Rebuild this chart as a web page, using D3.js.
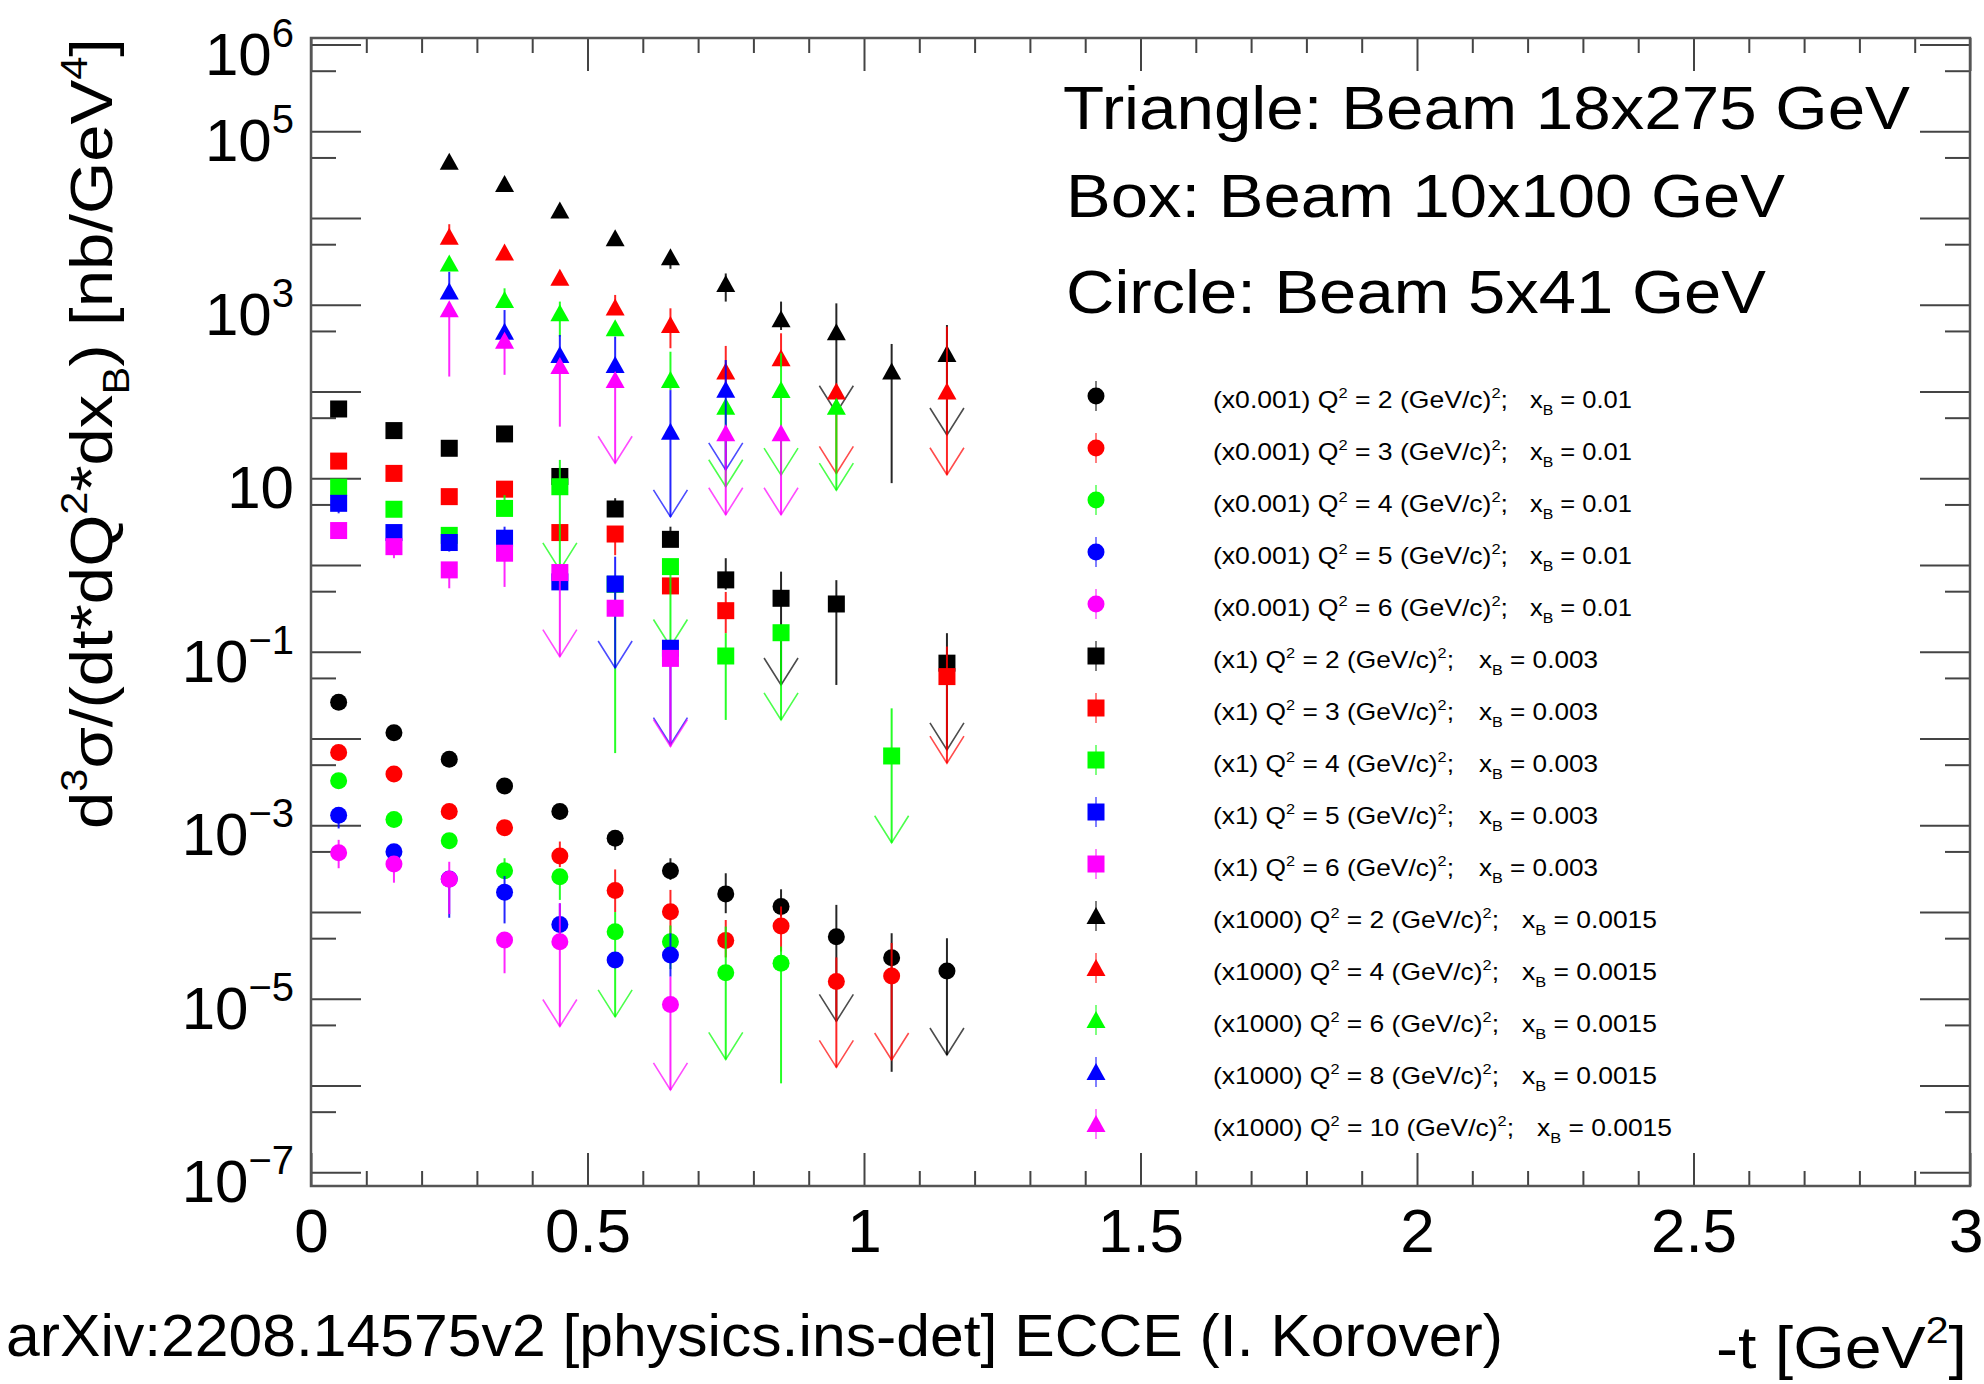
<!DOCTYPE html>
<html>
<head>
<meta charset="utf-8">
<script src="https://cdn.jsdelivr.net/npm/d3@7"></script>
<style>
  body { margin: 0; background: #fff; }
  svg { font-family: "Liberation Sans", Arial, Helvetica, sans-serif; }
</style>
</head>
<body>
<svg id="chart" width="1984" height="1384"></svg>
<script>
// points: [-t, value, lower end, upper end, arrow on lower end]
// Circle: beam 5x41 GeV, scaled x0.001
const circleQ2 = [[0.05, 0.0262], [0.15, 0.0117], [0.25, 5.77e-3], [0.35, 2.84e-3], [0.45, 1.44e-3],
  [0.55, 7.1e-4, 5.2e-4, 7.1e-4, 0], [0.65, 3.0e-4, 2.35e-4, 4.17e-4, 0], [0.75, 1.62e-4, 9.7e-5, 2.8e-4, 0],
  [0.85, 1.16e-4, 8.9e-5, 1.83e-4, 0], [0.95, 5.2e-5, 5.5e-6, 1.21e-4, 1], [1.05, 2.98e-5, 1.44e-6, 5.7e-5, 0],
  [1.15, 2.09e-5, 2.25e-6, 4.99e-5, 1]];
const circleQ3 = [[0.05, 6.9e-3], [0.15, 3.91e-3], [0.25, 1.44e-3], [0.35, 9.4e-4],
  [0.45, 4.43e-4, 3.3e-4, 6.5e-4, 0], [0.55, 1.77e-4, 1.0e-4, 3.1e-4, 0], [0.65, 1.01e-4, 5.0e-5, 1.8e-4, 0],
  [0.75, 4.69e-5, 3.0e-5, 8.1e-5, 0], [0.85, 6.9e-5, 3.5e-5, 1.16e-4, 0], [0.95, 1.58e-5, 1.62e-6, 3.0e-5, 1],
  [1.05, 1.83e-5, 1.97e-6, 4.4e-5, 1]];
const circleQ4 = [[0.05, 3.27e-3], [0.15, 1.17e-3], [0.25, 6.65e-4, 5.5e-4, 6.65e-4, 0],
  [0.35, 3.0e-4, 3.0e-4, 4.17e-4, 0], [0.45, 2.56e-4, 1.38e-4, 2.56e-4, 0], [0.55, 5.94e-5, 6.2e-6, 1.0e-4, 1],
  [0.65, 4.56e-5, 2.2e-5, 7.0e-5, 0], [0.75, 2.0e-5, 2.0e-6, 6.8e-5, 1], [0.85, 2.57e-5, 1.06e-6, 4.0e-5, 0]];
const circleQ5 = [[0.05, 1.31e-3, 9.2e-4, 1.31e-3, 0], [0.15, 4.97e-4], [0.25, 2.4e-4, 8.6e-5, 2.4e-4, 0],
  [0.35, 1.69e-4, 7.4e-5, 2.6e-4, 0], [0.45, 7.2e-5, 5.2e-5, 1.26e-4, 0], [0.55, 2.8e-5],
  [0.65, 3.2e-5, 1.8e-5, 5.7e-5, 0]];
const circleQ6 = [[0.05, 4.84e-4, 3.2e-4, 6.8e-4, 0], [0.15, 3.58e-4, 2.18e-4, 3.58e-4, 0],
  [0.25, 2.39e-4, 9.5e-5, 3.8e-4, 0], [0.35, 4.77e-5, 1.97e-5, 4.77e-5, 0], [0.45, 4.56e-5, 4.8e-6, 1.26e-4, 1],
  [0.65, 8.6e-6, 8.9e-7, 1.8e-5, 1]];

// Box: beam 10x100 GeV, scaled x1
const boxQ2 = [[0.05, 63], [0.15, 35.5], [0.25, 22.2], [0.35, 32.5], [0.45, 10.5],
  [0.55, 4.43, 4.43, 5.9, 0], [0.65, 1.98, 1.98, 2.77, 0], [0.75, 0.675, 0.52, 1.2, 0],
  [0.85, 0.414, 0.0415, 0.84, 1], [0.95, 0.356, 0.0415, 0.67, 0], [1.15, 0.074, 0.0074, 0.164, 1]];
const boxQ3 = [[0.05, 15.8], [0.15, 11.4], [0.25, 6.15], [0.35, 7.5], [0.45, 2.37],
  [0.55, 2.28, 1.3, 2.28, 0], [0.65, 0.575], [0.75, 0.298, 0.164, 0.49, 0], [1.15, 0.0518, 0.0052, 0.115, 1]];
const boxQ4 = [[0.05, 7.9], [0.15, 4.4], [0.25, 2.2], [0.35, 4.5, 4.5, 6.4, 0], [0.45, 8.0, 0.88, 16.3, 1],
  [0.55, 0.6, 0.0068, 0.6, 0], [0.65, 0.96, 0.115, 0.96, 1], [0.75, 0.0895, 0.0164, 0.164, 0],
  [0.85, 0.166, 0.0164, 0.166, 1], [1.05, 0.0063, 6.3e-4, 0.0223, 1]];
const boxQ5 = [[0.05, 5.15, 3.95, 5.15, 0], [0.15, 2.37], [0.25, 1.82, 1.43, 1.82, 0],
  [0.35, 2.04, 2.04, 2.77, 0], [0.45, 0.64], [0.55, 0.605, 0.065, 1.25, 1], [0.65, 0.11, 0.0085, 0.11, 1]];
const boxQ6 = [[0.05, 2.5], [0.15, 1.63, 1.2, 1.63, 0], [0.25, 0.88, 0.54, 0.88, 0], [0.35, 1.37, 0.56, 1.37, 0],
  [0.45, 0.82, 0.088, 0.82, 1], [0.55, 0.318], [0.65, 0.084, 0.0081, 0.084, 1]];

// Triangle: beam 18x275 GeV, scaled x1000
const triQ2 = [[0.25, 4.47e4], [0.35, 2.47e4], [0.45, 1.22e4], [0.55, 5.85e3], [0.65, 3.53e3, 2.6e3, 3.53e3, 0],
  [0.75, 1.74e3, 1.09e3, 2.3e3, 0], [0.85, 681, 513, 1090, 0], [0.95, 482, 57, 1040, 1],
  [1.05, 170, 8.8, 354, 0], [1.15, 272, 31.6, 585, 1]];
const triQ4 = [[0.25, 6.1e3, 6.1e3, 8.5e3, 0], [0.35, 4.0e3], [0.45, 2.05e3], [0.55, 929, 929, 1300, 0],
  [0.65, 586, 316, 912, 0], [0.75, 170, 120, 336, 0], [0.85, 242, 194, 470, 0], [0.95, 100, 11.4, 100, 1],
  [1.15, 100, 11, 561, 1]];
const triQ6 = [[0.25, 3.0e3], [0.35, 1.14e3, 1.14e3, 1.55e3, 0], [0.45, 798, 430, 1090, 0], [0.55, 536],
  [0.65, 136, 104, 288, 0], [0.75, 67, 8, 67, 1], [0.85, 104, 10.9, 276, 1], [0.95, 67, 7.3, 67, 1]];
const triQ8 = [[0.25, 1.42e3, 1.42e3, 2.4e3, 0], [0.35, 491, 491, 871, 0], [0.45, 264, 264, 449, 0],
  [0.55, 203, 177, 430, 0], [0.65, 34.5, 3.6, 104, 1], [0.75, 105, 12.5, 231, 1]];
const triQ10 = [[0.25, 887, 149, 887, 0], [0.35, 386, 156, 386, 0], [0.45, 197, 39.4, 197, 0],
  [0.55, 136, 14.9, 136, 1], [0.75, 33, 3.8, 33, 1], [0.85, 33, 3.8, 33, 1]];

const xMajor = [0, 0.5, 1, 1.5, 2, 2.5, 3];
const yLabelExps = [6, 5, 3, 1, -1, -3, -5, -7];
const beamLines = ["Triangle: Beam 18x275 GeV", "Box: Beam 10x100 GeV", "Circle: Beam 5x41 GeV"];

const colors = ["#000000", "#ff0000", "#00ff00", "#0000ff", "#ff00ff"];
const series = [
  { shape: "circle", data: circleQ2, c: 0, pre: "(x0.001)", q2: "2", xb: "0.01" },
  { shape: "circle", data: circleQ3, c: 1, pre: "(x0.001)", q2: "3", xb: "0.01" },
  { shape: "circle", data: circleQ4, c: 2, pre: "(x0.001)", q2: "4", xb: "0.01" },
  { shape: "circle", data: circleQ5, c: 3, pre: "(x0.001)", q2: "5", xb: "0.01" },
  { shape: "circle", data: circleQ6, c: 4, pre: "(x0.001)", q2: "6", xb: "0.01" },
  { shape: "square", data: boxQ2, c: 0, pre: "(x1)", q2: "2", xb: "0.003" },
  { shape: "square", data: boxQ3, c: 1, pre: "(x1)", q2: "3", xb: "0.003" },
  { shape: "square", data: boxQ4, c: 2, pre: "(x1)", q2: "4", xb: "0.003" },
  { shape: "square", data: boxQ5, c: 3, pre: "(x1)", q2: "5", xb: "0.003" },
  { shape: "square", data: boxQ6, c: 4, pre: "(x1)", q2: "6", xb: "0.003" },
  { shape: "triangle", data: triQ2, c: 0, pre: "(x1000)", q2: "2", xb: "0.0015" },
  { shape: "triangle", data: triQ4, c: 1, pre: "(x1000)", q2: "4", xb: "0.0015" },
  { shape: "triangle", data: triQ6, c: 2, pre: "(x1000)", q2: "6", xb: "0.0015" },
  { shape: "triangle", data: triQ8, c: 3, pre: "(x1000)", q2: "8", xb: "0.0015" },
  { shape: "triangle", data: triQ10, c: 4, pre: "(x1000)", q2: "10", xb: "0.0015" }
];

const svg = d3.select("#chart");
const pLeft = 311, pRight = 1970, pTop = 38, pBottom = 1186;

const x = d3.scaleLinear().domain([0, 3]).range([pLeft, pRight]);
const y = d3.scaleLog().domain([Math.pow(10, -7.158), Math.pow(10, 6.076)]).range([pBottom, pTop]);

const xMinor = d3.range(0, 31).map(i => i / 10).filter(v => Math.abs(v * 2 - Math.round(v * 2)) > 1e-6);
const yMajor = d3.range(-7, 7).map(e => Math.pow(10, e));
const yMinor = d3.range(-8, 6).map(e => 5 * Math.pow(10, e)).filter(v => v > y.domain()[0] && v < y.domain()[1]);

function styleAxis(g) {
  g.select(".domain").remove();
  g.selectAll(".tick line").attr("stroke", "#444").attr("stroke-width", 2);
}

// x axes
svg.append("g").attr("transform", `translate(0,${pBottom})`)
  .call(d3.axisBottom(x).tickValues(xMajor).tickSize(-33).tickPadding(22).tickFormat(d3.format("~g")))
  .call(styleAxis)
  .call(g => g.selectAll("text").attr("font-size", 62).attr("font-family", "Liberation Sans, Arial, sans-serif").attr("fill", "#000"))
  // last label sits on the right edge of the picture: keep it inside
  .call(g => g.selectAll("text").filter(d => d === 3).attr("text-anchor", "end").attr("x", 13));
svg.append("g").attr("transform", `translate(0,${pBottom})`)
  .call(d3.axisBottom(x).tickValues(xMinor).tickSize(-15).tickFormat("")).call(styleAxis);
svg.append("g").attr("transform", `translate(0,${pTop})`)
  .call(d3.axisTop(x).tickValues(xMajor).tickSize(-33).tickFormat("")).call(styleAxis);
svg.append("g").attr("transform", `translate(0,${pTop})`)
  .call(d3.axisTop(x).tickValues(xMinor).tickSize(-15).tickFormat("")).call(styleAxis);

// y axes
svg.append("g").attr("transform", `translate(${pLeft},0)`)
  .call(d3.axisLeft(y).tickValues(yMajor).tickSize(-50).tickFormat("")).call(styleAxis);
svg.append("g").attr("transform", `translate(${pLeft},0)`)
  .call(d3.axisLeft(y).tickValues(yMinor).tickSize(-25).tickFormat("")).call(styleAxis);
svg.append("g").attr("transform", `translate(${pRight},0)`)
  .call(d3.axisRight(y).tickValues(yMajor).tickSize(-50).tickFormat("")).call(styleAxis);
svg.append("g").attr("transform", `translate(${pRight},0)`)
  .call(d3.axisRight(y).tickValues(yMinor).tickSize(-25).tickFormat("")).call(styleAxis);

// frame
svg.append("rect").attr("x", pLeft).attr("y", pTop).attr("width", pRight - pLeft).attr("height", pBottom - pTop)
  .attr("fill", "none").attr("stroke", "#555").attr("stroke-width", 2.5);

// y tick labels 10^n
yLabelExps.forEach(e => {
  const t = svg.append("text").attr("x", 294).attr("y", y(Math.pow(10, e)) + 30)
    .attr("text-anchor", "end").attr("font-size", 60).text("10");
  if (e !== 1) {
    t.append("tspan").attr("dy", -28).attr("font-size", 40).text(e < 0 ? "\u2212" + (-e) : String(e));
  }
});

// rich text helper: parts = [[text, "n" | "sup" | "sub"], ...]
function rich(textSel, parts, size) {
  let cur = 0;
  parts.forEach(([s, kind]) => {
    const off = kind === "sup" ? -0.42 * size : kind === "sub" ? 0.28 * size : 0;
    textSel.append("tspan").attr("dy", off - cur)
      .attr("font-size", kind === "n" ? size : size * 0.62).text(s);
    cur = off;
  });
}

// axis titles
const yTitle = svg.append("text").attr("transform", "translate(112,829) rotate(-90)")
  .attr("font-size", 60).attr("textLength", 791).attr("lengthAdjust", "spacingAndGlyphs");
rich(yTitle, [["d", "n"], ["3", "sup"], ["\u03c3/(dt*dQ", "n"], ["2", "sup"], ["*dx", "n"], ["B", "sub"],
  [") [nb/GeV", "n"], ["4", "sup"], ["]", "n"]], 60);

const xTitle = svg.append("text").attr("x", 1716).attr("y", 1368)
  .attr("font-size", 60).attr("textLength", 251).attr("lengthAdjust", "spacingAndGlyphs");
rich(xTitle, [["-t [GeV", "n"], ["2", "sup"], ["]", "n"]], 60);

svg.append("text").attr("x", 6).attr("y", 1356).attr("font-size", 60)
  .attr("textLength", 1497).attr("lengthAdjust", "spacingAndGlyphs")
  .text("arXiv:2208.14575v2 [physics.ins-det] ECCE (I. Korover)");

// beam descriptions
const beamBase = [129, 217, 313], beamLen = [847, 719, 700];
beamLines.forEach((s, i) => {
  svg.append("text").attr("x", i === 0 ? 1063 : 1066).attr("y", beamBase[i]).attr("font-size", 62)
    .attr("textLength", beamLen[i]).attr("lengthAdjust", "spacingAndGlyphs").text(s);
});

// markers
function marker(g, shape, cx, cy, color) {
  if (shape === "circle") {
    g.append("circle").attr("cx", cx).attr("cy", cy).attr("r", 8.5).attr("fill", color);
  } else if (shape === "square") {
    g.append("rect").attr("x", cx - 8.5).attr("y", cy - 8.5).attr("width", 17).attr("height", 17).attr("fill", color);
  } else {
    g.append("path").attr("d", `M${cx},${cy - 9}L${cx + 9.5},${cy + 8}L${cx - 9.5},${cy + 8}Z`).attr("fill", color);
  }
}

const plot = svg.append("g");
series.forEach(s => {
  const color = colors[s.c];
  const g = plot.append("g");
  const pts = s.data.map(p => ({ t: p[0], v: p[1], lo: p[2] ?? p[1], hi: p[3] ?? p[1], arrow: p[4] ?? 0 }));
  g.selectAll("line.err").data(pts.filter(p => p.lo < p.v || p.hi > p.v)).join("line")
    .attr("class", "err")
    .attr("x1", p => x(p.t)).attr("x2", p => x(p.t))
    .attr("y1", p => y(p.lo)).attr("y2", p => y(p.hi))
    .attr("stroke", color).attr("stroke-width", 2).attr("stroke-opacity", 0.85);
  g.selectAll("path.arrow").data(pts.filter(p => p.arrow)).join("path")
    .attr("class", "arrow")
    .attr("d", p => { const ax = x(p.t), ay = y(p.lo); return `M${ax - 17},${ay - 27}L${ax},${ay}L${ax + 17},${ay - 27}`; })
    .attr("fill", "none").attr("stroke", color).attr("stroke-width", 1.6).attr("stroke-opacity", 0.7);
  pts.forEach(p => marker(g, s.shape, x(p.t), y(p.v), color));
});

// legend
const legend = svg.append("g");
const part1Len = { circle: 295, square: 241, triangle: 286 };
const part2X = { circle: 1530, square: 1479, triangle: 1522 };
const part2Len = { circle: 102, square: 119, triangle: 135 };
series.forEach((s, i) => {
  const ly = 396 + 52 * i;
  const color = colors[s.c];
  legend.append("line").attr("x1", 1096).attr("x2", 1096).attr("y1", ly - 15).attr("y2", ly + 15)
    .attr("stroke", color).attr("stroke-width", 2).attr("stroke-opacity", 0.5);
  marker(legend, s.shape, 1096, ly, color);
  const wide = s.q2.length > 1;
  const t1 = legend.append("text").attr("x", 1213).attr("y", ly + 12).attr("font-size", 24)
    .attr("textLength", part1Len[s.shape] + (wide ? 15 : 0)).attr("lengthAdjust", "spacingAndGlyphs");
  rich(t1, [[s.pre + " Q", "n"], ["2", "sup"], [" = " + s.q2 + " (GeV/c)", "n"], ["2", "sup"], [";", "n"]], 24);
  const t2 = legend.append("text").attr("x", part2X[s.shape] + (wide ? 15 : 0)).attr("y", ly + 12).attr("font-size", 24)
    .attr("textLength", part2Len[s.shape]).attr("lengthAdjust", "spacingAndGlyphs");
  rich(t2, [["x", "n"], ["B", "sub"], [" = " + s.xb, "n"]], 24);
});
</script>
</body>
</html>
